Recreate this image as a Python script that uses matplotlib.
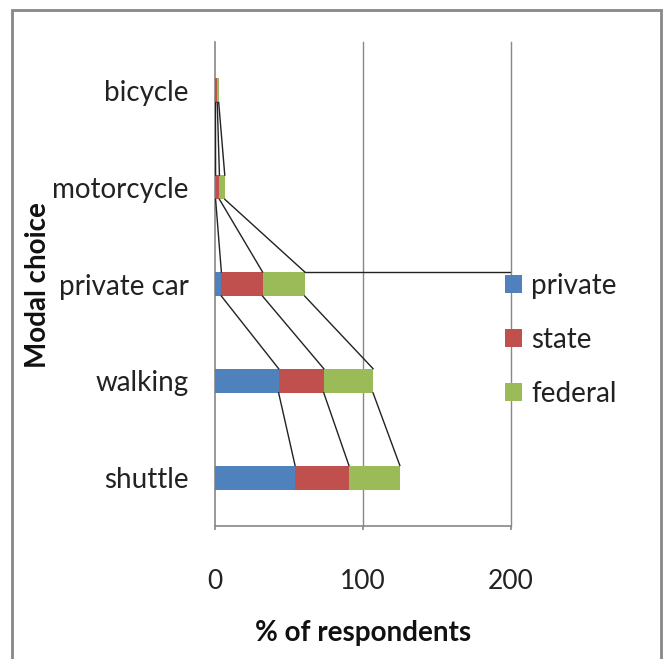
import matplotlib
matplotlib.use("Agg")
import matplotlib.pyplot as plt
from matplotlib.patches import Patch, Rectangle
import numpy as np

plt.rcParams['font.family'] = ['Lato', 'DejaVu Sans']

categories = ["shuttle", "walking", "private car", "motorcycle", "bicycle"]
series_names = ["private", "state", "federal"]
private = [54.1, 43.0, 4.3, 0.4, 0.3]
state = [36.4, 30.5, 27.8, 2.6, 1.2]
federal = [34.4, 33.3, 28.5, 3.6, 1.0]
colors = ["#4F81BD", "#C0504D", "#9BBB59"]

W, H = 668, 659
fig = plt.figure(figsize=(W / 100, H / 100), dpi=100)
ax = fig.add_axes([215 / W, 1 - 526 / H, (511 - 215) / W, (526 - 42) / H])

y = np.arange(len(categories))
h = 0.25
data = [private, state, federal]
left = np.zeros(len(categories))
ends = []
for vals, c, name in zip(data, colors, series_names):
    vals = np.array(vals)
    ax.barh(y, vals, left=left, height=h, color=c, edgecolor='none', zorder=3)
    left = left + vals
    ends.append(left.copy())

# series lines
for e in ends:
    for i in range(len(categories) - 1):
        ax.plot([e[i], e[i + 1]], [y[i] + h / 2, y[i + 1] - h / 2],
                color='#222222', lw=1.0, zorder=4)
# stray horizontal series line (as in the reference)
ax.plot([ends[2][2], 200], [y[2] + h / 2, y[2] + h / 2], color='#222222', lw=1.0, zorder=4)

ax.set_xlim(0, 200)
ax.set_ylim(-0.5, len(categories) - 0.5)
ax.set_xticks([0, 100, 200])
ax.set_yticks(y)
ax.set_yticklabels(categories)
for s in ['top', 'right']:
    ax.spines[s].set_visible(False)
for s in ['left', 'bottom']:
    ax.spines[s].set_color('#888888')
    ax.spines[s].set_linewidth(1.2)
for gx in [100, 200]:
    ax.axvline(gx, color='#888888', lw=1.0, zorder=0, clip_on=False)
ax.tick_params(axis='x', length=3, width=1.2, color='#888888', direction='out',
               pad=28, labelsize=19, labelcolor='#222222')
ax.tick_params(axis='y', length=0, pad=19, labelsize=20, labelcolor='#222222')

fig.text(363 / W, 1 - 633 / H, "% of respondents", ha='center', va='center',
         fontsize=20, fontweight='bold', color='#111111')
fig.text(38 / W, 1 - 285 / H, "Modal choice", ha='center', va='center', rotation=90,
         fontsize=20, fontweight='bold', color='#111111')

handles = [Patch(facecolor=c, edgecolor='none', label=n) for c, n in zip(colors, series_names)]
fig.legend(handles=handles, loc='upper left', bbox_to_anchor=(505 / W, 1 - 273 / H),
           frameon=False, fontsize=20, handlelength=0.6, handleheight=0.6,
           handletextpad=0.35, labelspacing=1.0, borderpad=0, borderaxespad=0,
           labelcolor='#222222')

fig.add_artist(Rectangle((12 / W, -0.01), (661 - 12) / W, 1 - 10 / H + 0.01,
                         transform=fig.transFigure, fill=False, edgecolor='#888888', lw=2))

fig.savefig("out.png", dpi=100)
